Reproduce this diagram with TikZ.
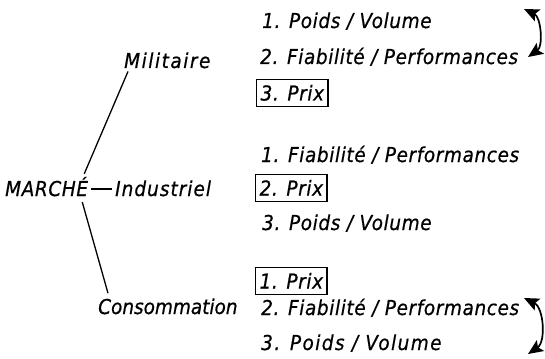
\documentclass[tikz,border=0pt]{standalone}
\usepackage{fontspec}
\setmainfont{DejaVu Sans}[LetterSpace=3,FakeStretch=0.9,FakeBold=0.6]
\usetikzlibrary{arrows.meta}
\begin{document}
\begin{tikzpicture}[x=1pt,y=-1pt,
  lbl/.style={anchor=base west,inner sep=0pt,font=\fontsize{20.5}{22}\selectfont\itshape},
  boxed/.style={anchor=west,draw,line width=1.2pt,inner xsep=4pt,inner ysep=6pt,
    text height=15pt,text depth=0pt,font=\fontsize{20.5}{22}\selectfont\itshape},
  branch/.style={line width=1.3pt},
  swap/.style={line width=1.7pt,{Stealth[length=15pt,width=13pt,inset=3pt]}-{Stealth[length=15pt,width=13pt,inset=3pt]},bend left=60}]
\useasboundingbox (0,0) rectangle (545,358);

% root and the three markets
\node[lbl] (marche) at (5,196) {MARCHÉ};
\node[lbl] (mil) at (124,68) {\addfontfeature{LetterSpace=7.5}Militaire};
\node[lbl] (ind) at (115,196) {\addfontfeature{LetterSpace=5}Industriel};
\node[lbl] (cons) at (98,314) {\addfontfeature{LetterSpace=0}Consommation};

\draw[branch] ([shift={(-4pt,3pt)}]marche.north east) -- ([shift={(4pt,-3pt)}]mil.south west);
\draw[branch] ([xshift=3pt,yshift=7pt]marche.base east) -- ([xshift=-3pt,yshift=7pt]ind.base west);
\draw[branch] ([shift={(-6pt,-6pt)}]marche.base east) -- ([shift={(10pt,5pt)}]cons.north west);

% military priorities
\node[lbl] (m1) at (262,28) {1. Poids / Volume};
\node[lbl] (m2) at (260,64) {2. Fiabilité / Performances};
\node[boxed] (m3) at (256,93) {3. Prix};

% industrial priorities
\node[lbl] (i1) at (261,162) {1. Fiabilité / Performances};
\node[boxed] (i2) at (255,188) {2. Prix};
\node[lbl] (i3) at (262,230) {3. Poids / Volume};

% consumer priorities
\node[boxed] (c1) at (255,281) {1. Prix};
\node[lbl] (c2) at (261,315) {2. Fiabilité / Performances};
\node[lbl] (c3) at (261,350) {\addfontfeature{LetterSpace=7}3. Poids / Volume};

% interchangeable pairs
\coordinate (ta) at (524,9);
\coordinate (tb) at (528,57);
\coordinate (ba) at (524,298);
\coordinate (bb) at (528,354);
\draw[swap] (ta) to (tb);
\draw[swap] (ba) to (bb);
\end{tikzpicture}
\end{document}
